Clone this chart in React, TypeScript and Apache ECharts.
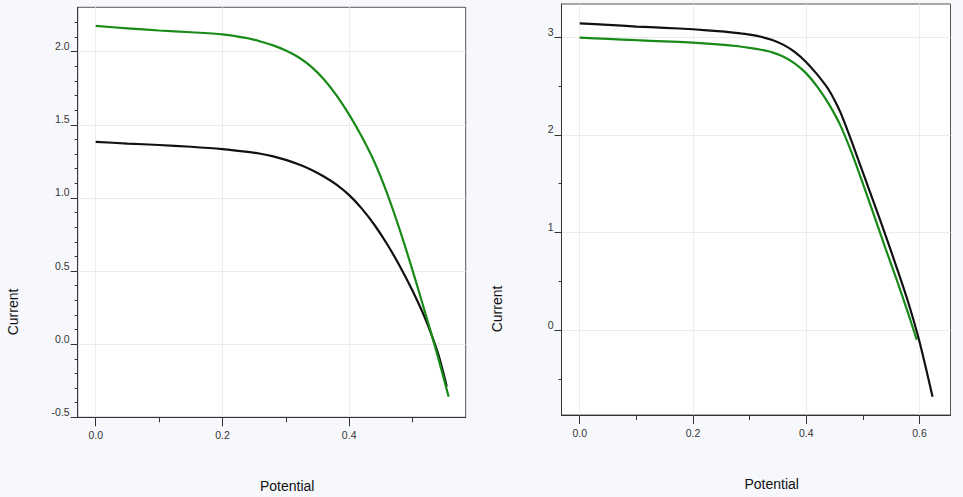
import React, { useEffect, useRef } from "react";
import * as echarts from "echarts";

// ---- Left panel data ----
const leftGreenPotential = [0, 0.05, 0.1, 0.15, 0.2, 0.22, 0.24, 0.26, 0.28, 0.3, 0.32, 0.34, 0.36, 0.38, 0.4, 0.42, 0.44, 0.46, 0.48, 0.5, 0.52, 0.54, 0.557];
const leftGreenCurrent = [2.176, 2.16, 2.145, 2.133, 2.119, 2.107, 2.092, 2.07, 2.043, 2.008, 1.962, 1.898, 1.812, 1.702, 1.57, 1.418, 1.244, 1.03, 0.78, 0.505, 0.215, -0.085, -0.36];
const leftBlackPotential = [0, 0.05, 0.1, 0.15, 0.2, 0.24, 0.26, 0.28, 0.3, 0.323, 0.34, 0.36, 0.38, 0.4, 0.42, 0.44, 0.46, 0.48, 0.5, 0.52, 0.54, 0.554];
const leftBlackCurrent = [1.384, 1.372, 1.362, 1.35, 1.334, 1.315, 1.302, 1.284, 1.26, 1.225, 1.193, 1.147, 1.091, 1.019, 0.927, 0.815, 0.683, 0.533, 0.365, 0.175, -0.06, -0.29];

// ---- Right panel data ----
const rightBlackPotential = [0, 0.05, 0.1, 0.15, 0.2, 0.25, 0.28, 0.3, 0.32, 0.34, 0.36, 0.38, 0.4, 0.42, 0.43, 0.44, 0.45, 0.46, 0.47, 0.48, 0.5, 0.52, 0.54, 0.56, 0.58, 0.6, 0.623];
const rightBlackCurrent = [3.143, 3.128, 3.11, 3.097, 3.082, 3.06, 3.042, 3.027, 3.005, 2.972, 2.922, 2.848, 2.745, 2.615, 2.54, 2.46, 2.355, 2.235, 2.09, 1.935, 1.615, 1.295, 0.97, 0.635, 0.285, -0.12, -0.683];
const rightGreenPotential = [0, 0.05, 0.1, 0.15, 0.2, 0.25, 0.28, 0.3, 0.32, 0.34, 0.36, 0.38, 0.4, 0.42, 0.44, 0.46, 0.48, 0.5, 0.52, 0.54, 0.56, 0.58, 0.595];
const rightGreenCurrent = [2.996, 2.983, 2.97, 2.958, 2.945, 2.925, 2.908, 2.892, 2.872, 2.845, 2.8, 2.73, 2.63, 2.49, 2.315, 2.1, 1.82, 1.5, 1.17, 0.835, 0.51, 0.17, -0.1];

// ---- Tick values ----
const leftXMajor = [0, 0.2, 0.4];
const leftXMinor = [0.1, 0.3, 0.5];
const leftYMajor = [-0.5, 0, 0.5, 1.0, 1.5, 2.0];
const leftYMinor = [-0.4, -0.3, -0.2, -0.1, 0.1, 0.2, 0.3, 0.4, 0.6, 0.7, 0.8, 0.9, 1.1, 1.2, 1.3, 1.4, 1.6, 1.7, 1.8, 1.9, 2.1, 2.2];
const rightXMajor = [0, 0.2, 0.4, 0.6];
const rightXMinor = [0.1, 0.3, 0.5];
const rightYMajor = [0, 1, 2, 3];
const rightYMinor = [-0.5, 0.5, 1.5, 2.5];

const xTitle = "Potential";
const yTitle = "Current";

const zip = (xs: number[], ys: number[]) => xs.map((x, i) => [x, ys[i]]);

const FONT = "Liberation Sans, Arial, sans-serif";
const AXIS_COLOR = "#333";
const GRID_COLOR = "#ececec";
const GREEN = "#188a18";
const BLACK = "#111";

function mainX(gridIndex: number, min: number, max: number, ticks: number[]) {
  return {
    type: "value",
    gridIndex,
    position: "bottom",
    min,
    max,
    axisLine: { show: true, onZero: false, lineStyle: { color: AXIS_COLOR, width: 1 } },
    axisTick: { show: true, length: 9, customValues: ticks, lineStyle: { color: AXIS_COLOR } },
    axisLabel: {
      customValues: ticks,
      formatter: (v: number) => v.toFixed(1),
      margin: 12,
      color: AXIS_COLOR,
      fontSize: 10.5,
      fontFamily: FONT,
    },
    splitLine: { show: true, lineStyle: { color: GRID_COLOR, width: 1 } },
  };
}
function minorX(gridIndex: number, min: number, max: number, ticks: number[]) {
  return {
    type: "value",
    gridIndex,
    position: "bottom",
    min,
    max,
    axisLine: { show: false, onZero: false },
    axisTick: { show: true, length: 5, customValues: ticks, lineStyle: { color: AXIS_COLOR } },
    axisLabel: { show: false },
    splitLine: { show: false },
  };
}
function mainY(gridIndex: number, min: number, max: number, ticks: number[], digits: number) {
  return {
    type: "value",
    gridIndex,
    position: "left",
    min,
    max,
    axisLine: { show: true, onZero: false, lineStyle: { color: AXIS_COLOR, width: 1 } },
    axisTick: { show: true, length: 7, customValues: ticks, lineStyle: { color: AXIS_COLOR } },
    axisLabel: {
      customValues: ticks,
      formatter: (v: number) => v.toFixed(digits),
      margin: 8,
      verticalAlign: "bottom",
      color: AXIS_COLOR,
      fontSize: 10.5,
      fontFamily: FONT,
    },
    splitLine: { show: true, lineStyle: { color: GRID_COLOR, width: 1 } },
  };
}
function minorY(gridIndex: number, min: number, max: number, ticks: number[]) {
  return {
    type: "value",
    gridIndex,
    position: "left",
    min,
    max,
    axisLine: { show: false, onZero: false },
    axisTick: { show: true, length: 3, customValues: ticks, lineStyle: { color: AXIS_COLOR } },
    axisLabel: { show: false },
    splitLine: { show: false },
  };
}

function line(name: string, xi: number, yi: number, data: number[][], color: string) {
  return {
    name,
    type: "line",
    xAxisIndex: xi,
    yAxisIndex: yi,
    data,
    smooth: 0.25,
    showSymbol: false,
    symbol: "none",
    lineStyle: { color, width: 2.2 },
    itemStyle: { color },
    z: 3,
  };
}

function titleText(x: number, y: number, text: string, rotate: boolean) {
  return {
    type: "text",
    x,
    y,
    rotation: rotate ? Math.PI / 2 : 0,
    style: {
      text,
      fill: "#111",
      font: `14px ${FONT}`,
      align: "center",
      verticalAlign: "middle",
    },
  };
}

export default function App() {
  const ref = useRef<HTMLDivElement>(null);
  useEffect(() => {
    if (!ref.current) return;
    const chart = echarts.init(ref.current, undefined, { renderer: "svg" });
    const gridBase = {
      show: true,
      backgroundColor: "#ffffff",
      borderColor: "#555",
      borderWidth: 1,
      containLabel: false,
      outerBoundsMode: "none",
    };
    chart.setOption({
      animation: false,
      backgroundColor: "#f7f8fc",
      grid: [
        { ...gridBase, left: 77.7, top: 7.3, width: 388, height: 410 },
        { ...gridBase, left: 561.5, top: 4, width: 389, height: 411 },
      ],
      xAxis: [
        mainX(0, -0.0284, 0.5839, leftXMajor),
        minorX(0, -0.0284, 0.5839, leftXMinor),
        mainX(1, -0.0321, 0.6547, rightXMajor),
        minorX(1, -0.0321, 0.6547, rightXMinor),
      ],
      yAxis: [
        mainY(0, -0.5, 2.3036, leftYMajor, 1),
        minorY(0, -0.5, 2.3036, leftYMinor),
        mainY(1, -0.871, 3.341, rightYMajor, 0),
        minorY(1, -0.871, 3.341, rightYMinor),
      ],
      series: [
        line("Left black", 0, 0, zip(leftBlackPotential, leftBlackCurrent), BLACK),
        line("Left green", 0, 0, zip(leftGreenPotential, leftGreenCurrent), GREEN),
        line("Right green", 2, 2, zip(rightGreenPotential, rightGreenCurrent), GREEN),
        line("Right black", 2, 2, zip(rightBlackPotential, rightBlackCurrent), BLACK),
      ],
      graphic: [
        titleText(13.3, 312, yTitle, true),
        titleText(287.2, 485.5, xTitle, false),
        titleText(497.3, 309, yTitle, true),
        titleText(771.7, 483.8, xTitle, false),
      ],
    });
    return () => chart.dispose();
  }, []);
  return (
    <div
      ref={ref}
      style={{ position: "fixed", left: 0, top: 0, width: 963, height: 497 }}
    />
  );
}
